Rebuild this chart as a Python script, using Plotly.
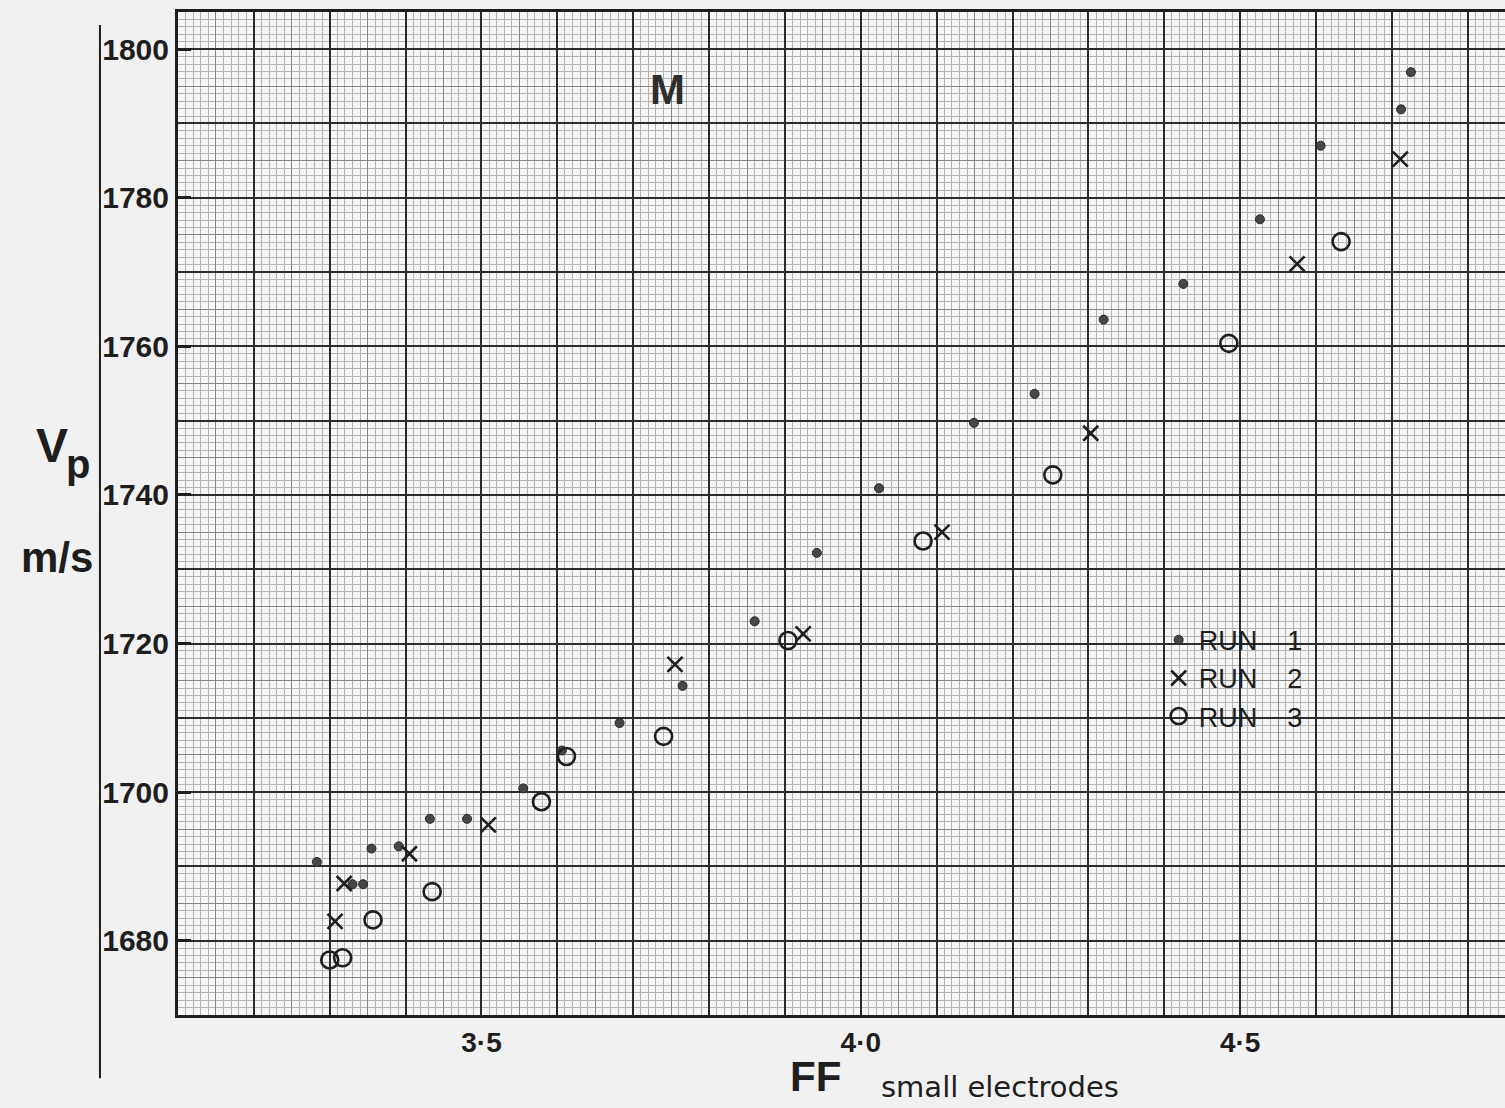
import plotly.graph_objects as go

# FF (small electrodes) against compressional velocity Vp (m/s), three runs
run1_ff = [3.283, 3.330, 3.344, 3.355, 3.391, 3.432, 3.481, 3.555, 3.606, 3.682, 3.765,
           3.860, 3.942, 4.024, 4.149, 4.229, 4.320, 4.425, 4.526, 4.606, 4.712, 4.725]
run1_vp = [1690.6, 1687.6, 1687.6, 1692.4, 1692.7, 1696.4, 1696.4, 1700.5, 1705.6, 1709.3, 1714.3,
           1723.0, 1732.2, 1740.9, 1749.7, 1753.6, 1763.6, 1768.4, 1777.1, 1787.0, 1791.9, 1796.9]

run2_ff = [3.307, 3.319, 3.405, 3.509, 3.755, 3.924, 4.107, 4.303, 4.575, 4.711]
run2_vp = [1682.6, 1687.7, 1691.7, 1695.6, 1717.2, 1721.3, 1735.0, 1748.3, 1771.1, 1785.2]

run3_ff = [3.300, 3.317, 3.357, 3.435, 3.579, 3.612, 3.740, 3.904, 4.082, 4.253, 4.485, 4.633]
run3_vp = [1677.4, 1677.7, 1682.8, 1686.6, 1698.7, 1704.8, 1707.5, 1720.4, 1733.8, 1742.7, 1760.4, 1774.1]

x_ticks = [3.5, 4.0, 4.5]
x_tick_labels = ["3·5", "4·0", "4·5"]
y_ticks = [1680, 1700, 1720, 1740, 1760, 1780, 1800]

X_RANGE = [3.1, 4.849]
Y_RANGE = [1670, 1805]

INK = "#1e1e1e"
FONT = "Liberation Sans, Arial, sans-serif"
GAP = "\u00a0" * 4

fig = go.Figure()

# each run sits on its own overlaid subplot so the three grid weights all render
fig.add_trace(go.Scatter(
    x=run1_ff, y=run1_vp, mode="markers", name="RUN" + GAP + "1",
    xaxis="x", yaxis="y",
    marker=dict(symbol="circle", size=9, color="#474747",
                line=dict(color="#262626", width=1)),
))
fig.add_trace(go.Scatter(
    x=run2_ff, y=run2_vp, mode="markers", name="RUN" + GAP + "2",
    xaxis="x2", yaxis="y2",
    marker=dict(symbol="x-thin-open", size=15, color=INK,
                line=dict(color=INK, width=2.6)),
))
fig.add_trace(go.Scatter(
    x=run3_ff, y=run3_vp, mode="markers", name="RUN" + GAP + "3",
    xaxis="x3", yaxis="y3",
    marker=dict(symbol="circle-open", size=17, color=INK,
                line=dict(color=INK, width=2.6)),
))

# graph-paper grid: fine 1-unit rulings on the base axes,
# medium rulings on one overlay, heavy rulings on a second overlay
fine = dict(showgrid=True, gridcolor="#b4b4b4", gridwidth=1)
plain = dict(showticklabels=False, ticks="", zeroline=False, showline=False)

fig.update_layout(
    width=1505, height=1108,
    margin=dict(l=178, r=0, t=12, b=93),
    paper_bgcolor="#f1f1f1",
    plot_bgcolor="#f6f6f6",
    showlegend=True,
    legend=dict(
        x=0.739, y=0.398, xanchor="left", yanchor="top",
        bgcolor="rgba(0,0,0,0)", borderwidth=0,
        font=dict(family=FONT, size=27, color=INK),
        itemwidth=30,
    ),
    xaxis=dict(
        range=X_RANGE, tickmode="array", tickvals=x_ticks, ticktext=x_tick_labels,
        showgrid=False, zeroline=False,
        showline=True, mirror=True, linecolor=INK, linewidth=3,
        ticks="", ticklabelstandoff=0,
        tickfont=dict(family=FONT, size=28, color=INK, weight="bold"),
        minor=dict(tickmode="linear", tick0=3.1, dtick=0.01, ticks="", **fine),
    ),
    yaxis=dict(
        range=Y_RANGE, tickmode="array", tickvals=y_ticks,
        showgrid=False, zeroline=False,
        showline=True, mirror=False, linecolor=INK, linewidth=3,
        ticks="inside", ticklen=13, tickwidth=2.5, tickcolor=INK,
        ticklabelstandoff=0,
        tickfont=dict(family=FONT, size=30, color=INK, weight="bold"),
        minor=dict(tickmode="linear", tick0=1670, dtick=1, ticks="", **fine),
    ),
    xaxis2=dict(range=X_RANGE, overlaying="x", anchor="y2", tick0=3.1, dtick=0.05,
                showgrid=True, gridcolor="#858585", gridwidth=1.1, **plain),
    yaxis2=dict(range=Y_RANGE, overlaying="y", anchor="x2", tick0=1670, dtick=5,
                showgrid=True, gridcolor="#858585", gridwidth=1.1, **plain),
    xaxis3=dict(range=X_RANGE, overlaying="x", anchor="y3", tick0=3.1, dtick=0.1,
                showgrid=True, gridcolor="#2c2c2c", gridwidth=1.9, **plain),
    yaxis3=dict(range=Y_RANGE, overlaying="y", anchor="x3", tick0=1670, dtick=10,
                showgrid=True, gridcolor="#2c2c2c", gridwidth=1.9, **plain),
)

# hand-ruled vertical line to the left of the velocity scale
fig.add_shape(type="line", xref="paper", yref="paper",
              x0=-0.0588, x1=-0.0588, y0=0.987, y1=-0.063,
              line=dict(color=INK, width=2))

annotations = [
    dict(text="M", x=667, y=90, size=42, bold=True, color="#2e2e2e"),
    dict(text="V", x=52, y=445, size=48, bold=True, color=INK),
    dict(text="p", x=78, y=464, size=40, bold=True, color=INK),
    dict(text="m/s", x=57, y=557, size=42, bold=True, color=INK),
    dict(text="FF", x=815, y=1076, size=42, bold=True, color=INK),
    dict(text="small electrodes", x=1000, y=1087, size=29, bold=False, color=INK,
         family="DejaVu Sans, Liberation Sans, sans-serif"),
]
W, H = 1505, 1108
L, R, T, B = 178, 0, 12, 93
pw, ph = W - L - R, H - T - B
for a in annotations:
    fig.add_annotation(
        text=a["text"], xref="paper", yref="paper",
        x=(a["x"] - L) / pw, y=(H - B - a["y"]) / ph,
        xanchor="center", yanchor="middle", showarrow=False,
        font=dict(family=a.get("family", FONT), size=a["size"], color=a["color"],
                  weight="bold" if a["bold"] else "normal"),
    )

fig.write_html("out.html")
